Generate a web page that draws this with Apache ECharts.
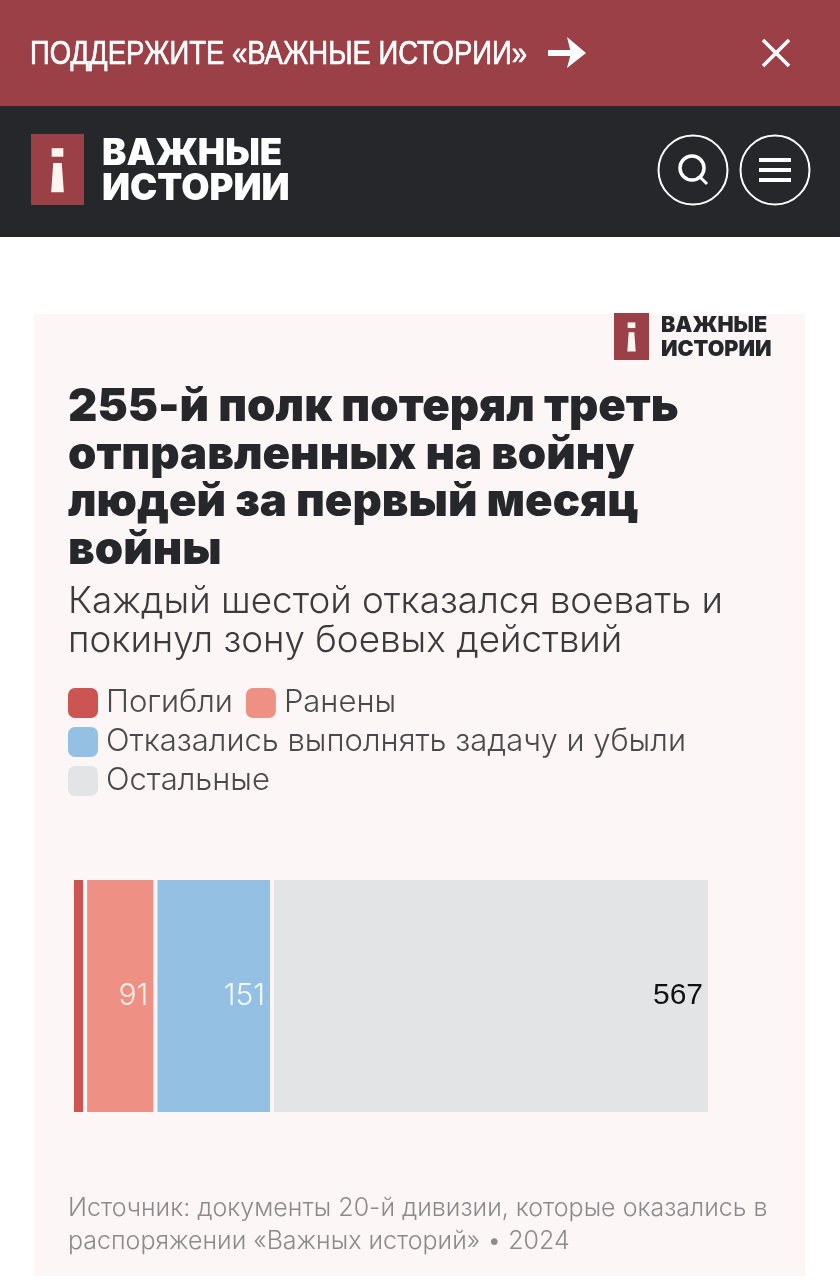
<!DOCTYPE html>
<html>
<head>
<meta charset="utf-8">
<title>255-й полк</title>
<script src="https://cdn.jsdelivr.net/npm/echarts@6/dist/echarts.min.js"></script>
<style>
html,body{margin:0;padding:0;background:#fff;}
#main{width:840px;height:1280px;}
</style>
</head>
<body>
<div id="main"></div>
<script>
const seriesNames = ['Погибли', 'Ранены', 'Отказались выполнять задачу и убыли', 'Остальные'];
const seriesValues = [17, 91, 151, 567];
const seriesColors = ['#cc5553', '#ee9184', '#94c0e3', '#e3e4e6'];
const labelColors = ['#fff', '#fdf0ec', '#f4f9fd', '#111'];
const category = ['255-й полк'];
const total = 826;

const titleText = '255-й полк потерял треть\nотправленных на войну\nлюдей за первый месяц\nвойны';
const subtitleText = 'Каждый шестой отказался воевать и\nпокинул зону боевых действий';
const sourceText = 'Источник: документы 20-й дивизии, которые оказались в\nраспоряжении «Важных историй» • 2024';
const bannerText = 'ПОДДЕРЖИТЕ «ВАЖНЫЕ ИСТОРИИ»';
const logoLines = 'ВАЖНЫЕ\nИСТОРИИ';

const sans = '"Liberation Sans", sans-serif';
const light = 'Inter, sans-serif';
const panelColor = '#fcf6f6';
const brand = '#9b4047';
const dark = '#25272a';

function logo(x, y, w, h, fontSize, lineH, textX, textY, textColor) {
  // плашка с буквой i
  let cx = x + w / 2;
  return [
    { type: 'rect', shape: { x: x, y: y, width: w, height: h }, style: { fill: brand } },
    { type: 'rect', shape: { x: cx - w * 0.11, y: y + h * 0.2, width: w * 0.22, height: h * 0.12 }, style: { fill: '#fdf5f0' } },
    { type: 'polygon', shape: { points: [[cx - w * 0.08, y + h * 0.41], [cx + w * 0.08, y + h * 0.41], [cx + w * 0.12, y + h * 0.82], [cx - w * 0.12, y + h * 0.82]] }, style: { fill: '#fdf5f0' } },
    { type: 'text', x: textX, y: textY, style: { text: logoLines, fill: textColor, font: '900 ' + fontSize + 'px Inter, sans-serif', lineHeight: lineH } }
  ];
}

const graphicEls = [
  // верхние полосы и панель графика
  { type: 'rect', z: -10, shape: { x: 0, y: 0, width: 840, height: 106 }, style: { fill: brand } },
  { type: 'rect', z: -10, shape: { x: 0, y: 106, width: 840, height: 131 }, style: { fill: dark } },
  { type: 'rect', z: -10, shape: { x: 34, y: 314, width: 771, height: 962 }, style: { fill: panelColor } },
  { type: 'text', x: 30, y: 38, scaleX: 0.808, style: { text: bannerText, fill: '#fff', stroke: '#fff', lineWidth: 0.7, font: '34px "Liberation Sans", sans-serif' } },
  { type: 'polyline', shape: { points: [[548, 53], [578, 53]] }, style: { stroke: '#fff', lineWidth: 6, fill: null } },
  { type: 'polygon', shape: { points: [[567, 37], [586, 53], [567, 68], [571, 53]] }, style: { fill: '#fff' } },
  { type: 'polyline', shape: { points: [[763, 40], [789, 66]] }, style: { stroke: '#fff', lineWidth: 3.5, fill: null } },
  { type: 'polyline', shape: { points: [[789, 40], [763, 66]] }, style: { stroke: '#fff', lineWidth: 3.5, fill: null } },
  { type: 'circle', shape: { cx: 693, cy: 170, r: 34.5 }, style: { stroke: '#fff', lineWidth: 2, fill: null } },
  { type: 'circle', shape: { cx: 775, cy: 170, r: 34.5 }, style: { stroke: '#fff', lineWidth: 2, fill: null } },
  { type: 'circle', shape: { cx: 692, cy: 168, r: 12 }, style: { stroke: '#fff', lineWidth: 3.5, fill: null } },
  { type: 'polyline', shape: { points: [[700, 177], [707, 184]] }, style: { stroke: '#fff', lineWidth: 3, fill: null } },
  { type: 'rect', shape: { x: 759, y: 158, width: 32, height: 4 }, style: { fill: '#fff' } },
  { type: 'rect', shape: { x: 759, y: 168, width: 32, height: 4 }, style: { fill: '#fff' } },
  { type: 'rect', shape: { x: 759, y: 178, width: 32, height: 4 }, style: { fill: '#fff' } }
].concat(
  logo(31, 134, 53, 71, 36.5, 35.5, 102, 136, '#fff'),
  logo(614, 313, 35, 47, 21.5, 24, 661, 314, dark)
);

const legendBase = {
  left: 66, padding: 0, orient: 'horizontal', itemWidth: 32, itemHeight: 32, itemGap: 11,
  icon: 'roundRect', selectedMode: false,
  textStyle: { fontFamily: light, fontWeight: 300, fontSize: 31, color: '#4a4a4c', padding: [0, 0, 0, 2] }
};

const chart = echarts.init(document.getElementById('main'), null, { renderer: 'canvas' });
chart.setOption({
  animation: false,
  backgroundColor: '#fff',
  title: [
    {
      text: titleText, left: 68, top: 384, padding: 0,
      textStyle: { fontFamily: 'Inter, sans-serif', fontWeight: 900, fontSize: 45.5, lineHeight: 47.5, color: dark }
    },
    {
      text: subtitleText, left: 68, top: 582, padding: 0,
      textStyle: { fontFamily: light, fontWeight: 300, fontSize: 36.8, lineHeight: 39, color: '#3b3b3d' }
    },
    {
      text: sourceText, left: 68, top: 1192, padding: 0,
      textStyle: { fontFamily: light, fontWeight: 300, fontSize: 25, lineHeight: 33, color: '#8b8b8d' }
    }
  ],
  legend: [
    Object.assign({}, legendBase, { top: 686, data: seriesNames.slice(0, 2) }),
    Object.assign({}, legendBase, { top: 725, data: [seriesNames[2]] }),
    Object.assign({}, legendBase, { top: 764, data: [seriesNames[3]] })
  ],
  grid: { left: 72, right: 130, top: 878, height: 236 },
  xAxis: { type: 'value', min: 0, max: total, show: false },
  yAxis: { type: 'category', data: category, show: false },
  graphic: { elements: graphicEls },
  series: seriesNames.map((name, i) => ({
    name: name,
    type: 'bar',
    stack: 'all',
    barWidth: '100%',
    data: [seriesValues[i]],
    itemStyle: { color: seriesColors[i], borderColor: panelColor, borderWidth: 2 },
    label: {
      show: i > 0,
      position: 'insideRight',
      distance: 7,
      fontFamily: i === 3 ? sans : light,
      fontWeight: i === 3 ? 400 : 300,
      fontSize: i === 3 ? 30 : 30,
      color: labelColors[i]
    }
  }))
});
</script>
</body>
</html>
